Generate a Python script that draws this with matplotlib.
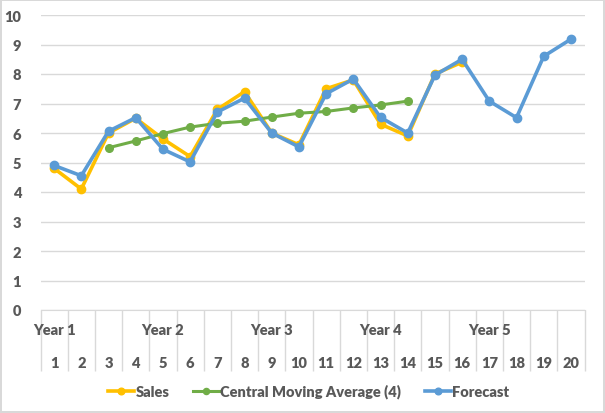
import matplotlib
matplotlib.use("Agg")
import matplotlib.pyplot as plt
import numpy as np

periods = list(range(1, 21))
year_labels = ["Year 1", "Year 2", "Year 3", "Year 4", "Year 5"]
year_positions = [1, 5, 9, 13, 17]

sales = [4.8, 4.1, 6.0, 6.5, 5.8, 5.2, 6.8, 7.4, 6.0, 5.6, 7.5, 7.8, 6.3, 5.9, 8.0, 8.4]
cma_periods = list(range(3, 15))
cma = [5.5, 5.73, 5.98, 6.2, 6.33, 6.4, 6.54, 6.67, 6.73, 6.85, 6.95, 7.08]
forecast = [4.9, 4.55, 6.06, 6.52, 5.45, 5.02, 6.71, 7.18, 6.0, 5.53, 7.33, 7.83,
            6.53, 6.0, 7.96, 8.5, 7.08, 6.52, 8.6, 9.18]

W, H = 605, 414
fig = plt.figure(figsize=(W / 100, H / 100), dpi=100)
fig.patch.set_facecolor("white")
fig.patch.set_edgecolor("#D9D9D9")
fig.patch.set_linewidth(1.5)

left, right, top, bottom = 40.5, 584.5, 16, 311
ax = fig.add_axes([left / W, (H - bottom) / H, (right - left) / W, (bottom - top) / H])

font = "Lato"
weight = "heavy"
txtcol = "#595959"
grid = "#D9D9D9"

ax.plot(periods[:len(sales)], sales, color="#FFC000", lw=2.6, marker="o", ms=6, label="Sales", zorder=3)
ax.plot(cma_periods, cma, color="#70AD47", lw=2.2, marker="o", ms=5.5,
        label="Central Moving Average (4)", zorder=4)
ax.plot(periods, forecast, color="#5B9BD5", lw=2.6, marker="o", ms=6, label="Forecast", zorder=5)

ax.set_xlim(0.5, 20.5)
ax.set_ylim(0, 10)
ax.set_yticks(range(0, 11))
ax.yaxis.grid(True, color=grid, lw=1)
ax.set_axisbelow(True)
for s in ["top", "right", "left"]:
    ax.spines[s].set_visible(False)
ax.spines["bottom"].set_color(grid)
ax.tick_params(axis="y", length=0, pad=14, labelsize=10.5, labelcolor=txtcol)

ax.set_xticks(periods)
ax.set_xticklabels([str(p) for p in periods])
ax.set_xticks(np.arange(0.5, 21, 1), minor=True)
ax.tick_params(axis="x", which="major", length=0, pad=33, labelsize=10.5, labelcolor=txtcol)
ax.tick_params(axis="x", which="minor", length=44, width=1, color=grid, direction="out")

for lab in ax.get_xticklabels() + ax.get_yticklabels():
    lab.set_fontfamily(font)
    lab.set_fontweight(weight)

for pos, lab in zip(year_positions, year_labels):
    ax.annotate(lab, xy=(pos, 0), xycoords=("data", "axes fraction"),
                xytext=(0, -14), textcoords="offset points", ha="center", va="center",
                fontsize=10.5, fontweight=weight, color=txtcol, fontfamily=font)

leg = fig.legend(loc="center", bbox_to_anchor=(0.51, (H - 392) / H), ncol=3, frameon=False,
                 prop={"family": font, "weight": weight, "size": 10.5},
                 handlelength=1.8, columnspacing=1.6, handletextpad=0.1, markerscale=0.8)
for t in leg.get_texts():
    t.set_color(txtcol)

fig.savefig("out.png", dpi=100)
